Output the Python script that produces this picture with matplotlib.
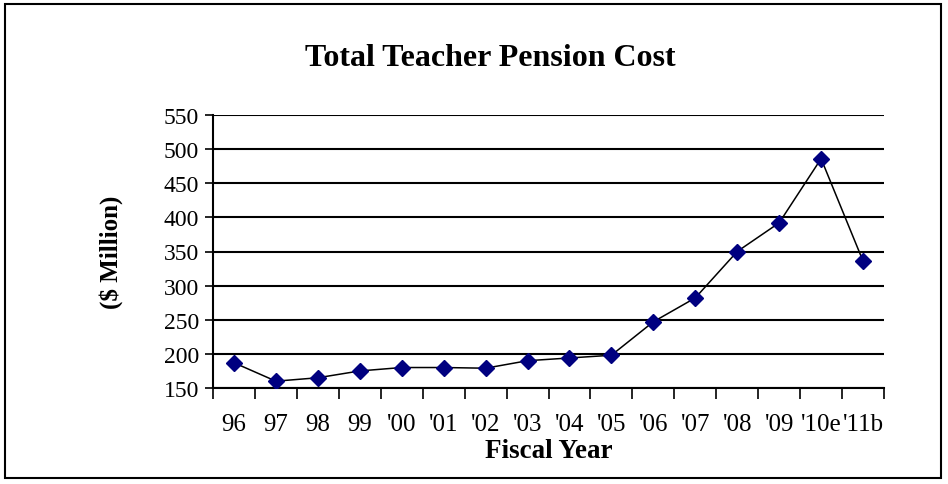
import matplotlib.pyplot as plt
from matplotlib.patches import Rectangle

years = ["96", "97", "98", "99", "'00", "'01", "'02", "'03", "'04", "'05",
         "'06", "'07", "'08", "'09", "'10e", "'11b"]
cost = [187, 160, 165, 175, 180, 180, 179, 190, 194, 198,
        247, 282, 350, 392, 486, 336]
y_ticks = [150, 200, 250, 300, 350, 400, 450, 500, 550]

plt.rcParams['font.family'] = ['Liberation Serif', 'DejaVu Serif']

fig = plt.figure(figsize=(9.48, 4.85), dpi=100)
ax = fig.add_axes([213 / 948, 1 - 389 / 485, (884 - 213) / 948, (389 - 116) / 485])

x = list(range(len(years)))
ax.plot(x, cost, color="black", linewidth=1.1, zorder=3)
ax.plot(x, cost, linestyle="none", marker="D", markersize=8.5,
        markerfacecolor="#000080", markeredgecolor="#000080", zorder=4)

ax.set_ylim(150, 550)
ax.set_yticks(y_ticks)
ax.set_xlim(-0.5, len(years) - 0.5)
ax.set_xticks(x)
ax.set_xticklabels(years)
ax.set_xticks([i - 0.5 for i in range(len(years) + 1)], minor=True)
ax.tick_params(axis="x", which="major", length=0, pad=18, labelsize=18)
ax.tick_params(axis="x", which="minor", length=8, width=1.2, direction="out")
ax.tick_params(axis="y", length=6, width=1.2, direction="out", labelsize=17, pad=4)

ax.grid(axis="y", color="black", linewidth=1.5)
ax.set_axisbelow(True)
for side in ["top", "right"]:
    ax.spines[side].set_visible(False)
ax.spines["left"].set_linewidth(1.5)
ax.spines["bottom"].set_linewidth(1.5)

ax.set_title("Total Teacher Pension Cost", fontsize=23, fontweight="bold", pad=36,
             x=(490 - 213) / (884 - 213))
ax.set_xlabel("Fiscal Year", fontsize=19.5, fontweight="bold", labelpad=2)
ax.set_ylabel("($ Million)", fontsize=18, fontweight="bold", labelpad=29)

fig.patches.append(Rectangle((5 / 948, 1 - 479 / 485), 936 / 948, 474 / 485,
                             transform=fig.transFigure, fill=False,
                             edgecolor="black", linewidth=1.5))

fig.savefig("out.png", dpi=100)
